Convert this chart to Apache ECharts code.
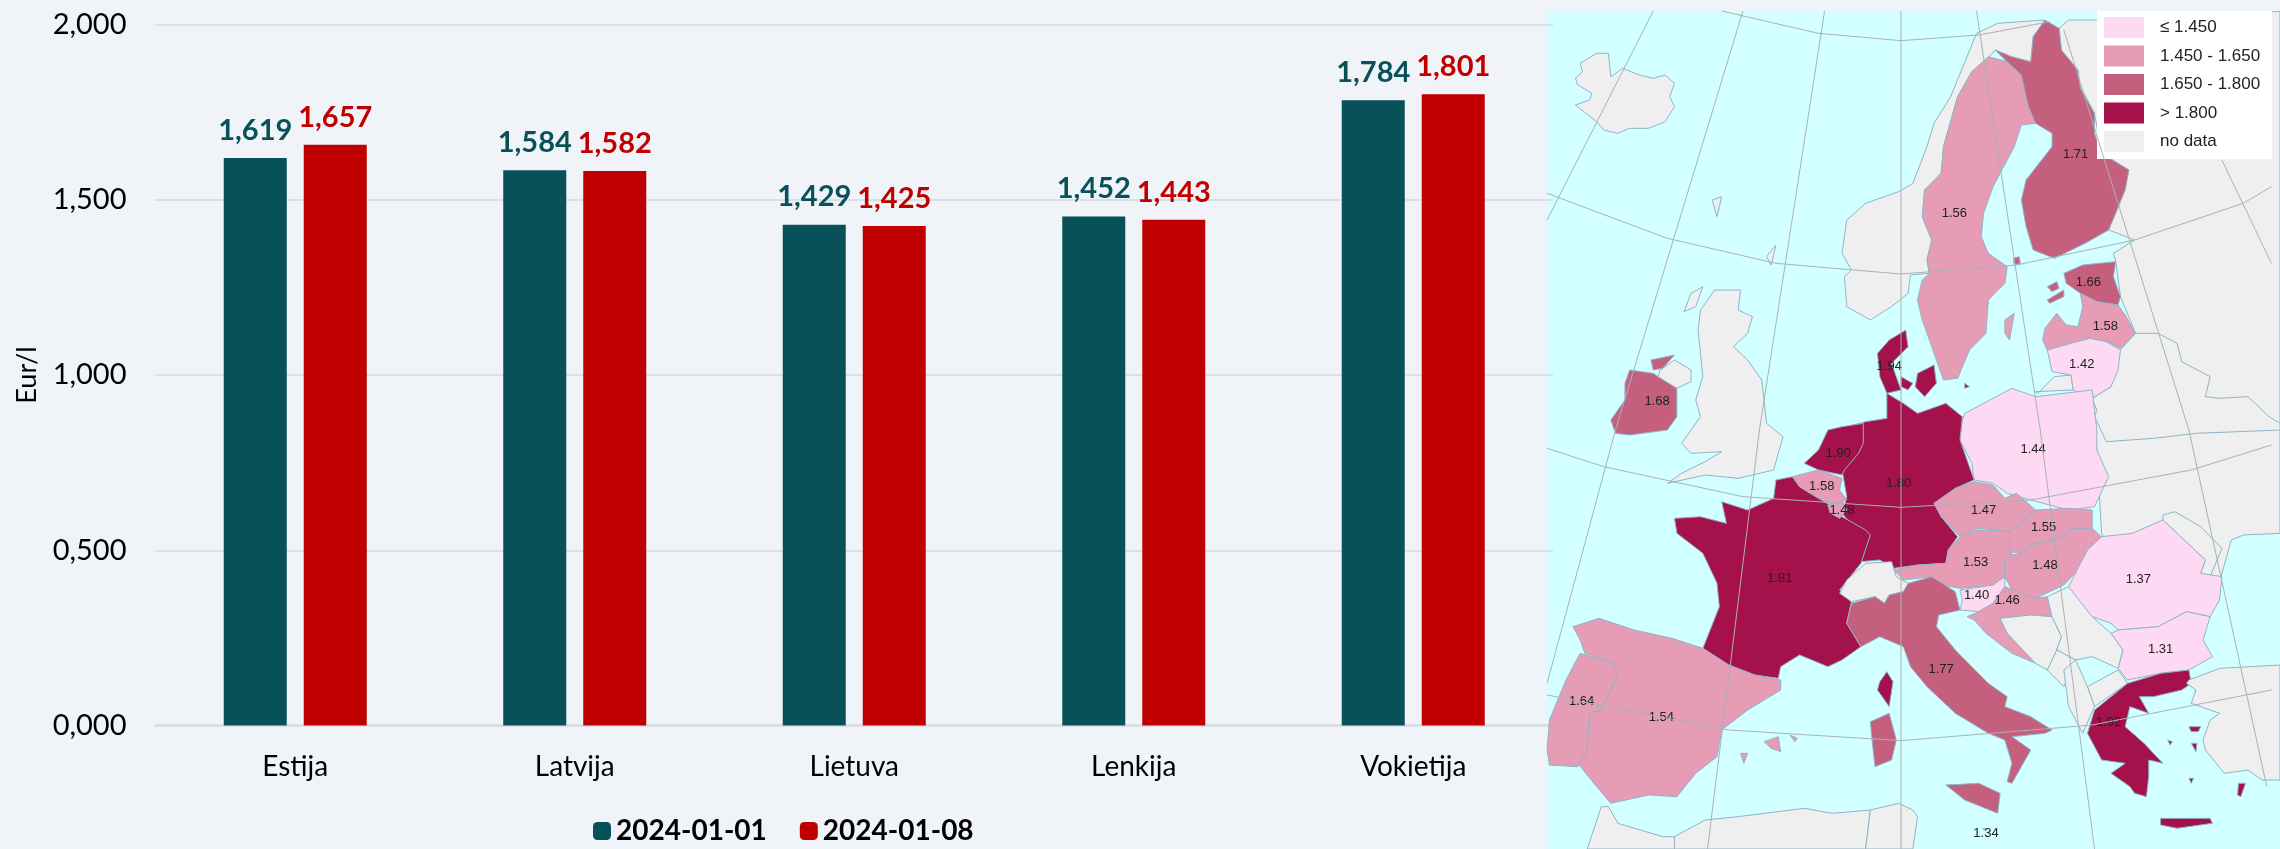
<!DOCTYPE html>
<html>
<head>
<meta charset="utf-8">
<style>
  html, body { margin: 0; background: #f0f4f8; }
  #chart { width: 2280px; height: 849px; }
</style>
<script src="https://cdn.jsdelivr.net/npm/echarts@6/dist/echarts.min.js"></script>
</head>
<body>
<div id="chart"></div>
<script>
const categories = ["Estija", "Latvija", "Lietuva", "Lenkija", "Vokietija"];
const seriesNames = ["2024-01-01", "2024-01-08"];
const firstWeek = [1.619, 1.584, 1.429, 1.452, 1.784];
const secondWeek = [1.657, 1.582, 1.425, 1.443, 1.801];
const yTicks = { min: 0, max: 2, interval: 0.5 };

const priceCountries = ["Sweden", "Finland", "Estonia", "Latvia", "Lithuania", "Poland", "Germany", "Denmark",
  "Ireland", "Netherlands", "Belgium", "Luxembourg", "France", "Czechia", "Slovakia", "Austria", "Hungary",
  "Romania", "Bulgaria", "Slovenia", "Croatia", "Italy", "Portugal", "Spain", "Greece", "Malta"];
const priceValues = [1.56, 1.71, 1.66, 1.58, 1.42, 1.44, 1.801, 1.94,
  1.68, 1.90, 1.58, 1.48, 1.81, 1.47, 1.55, 1.53, 1.48,
  1.37, 1.31, 1.40, 1.46, 1.77, 1.64, 1.54, 1.92, 1.34];

const comma = (v, digits) => v.toFixed(digits).replace(".", ",");

const low = pts => pts.map(([x, y]) => [x, y + 1260]);
const outlines = {
  Iceland: [[[75,235],[90,215],[85,190],[120,160],[145,160],[150,230],[175,205],[210,225],[240,235],[265,225],[285,250],[275,290],[285,320],[265,365],[230,385],[190,385],[165,400],[135,390],[120,365],[75,315],[105,300],[110,280],[80,255]]],
  Faroe: [[[365,600],[385,590],[375,650]], [[480,770],[500,735],[490,795]]],
  East: [[[1100,85],[1120,60],[1180,60],[1568,34],[1568,1600],[1490,1605],[1465,1620],[1445,1720],[1420,1850],[1300,1890],[1190,1600],[1180,1350],[1170,1170],[1262,1000],[1230,890],[1220,785],[1215,760],[1260,720],[1205,690],[1248,510],[1190,460],[1175,340],[1105,150]]],
  Belarus: [[[1262,1000],[1310,1000],[1350,1030],[1360,1085],[1420,1130],[1410,1190],[1440,1195],[1500,1190],[1545,1250],[1568,1270],[1568,1290],[1390,1300],[1300,1315],[1200,1325],[1175,1250],[1180,1230],[1170,1195],[1210,1160],[1230,1050]]],
  Moldova: [low([[1320,285],[1345,275],[1400,320],[1445,385],[1420,470],[1400,460],[1410,420],[1380,380],[1320,300]])],
  Kaliningrad: [[[1055,1180],[1090,1130],[1125,1125],[1130,1170],[1050,1175]]],
  Norway: [[[650,660],[690,610],[760,575],[790,550],[820,440],[835,370],[870,290],[905,170],[925,100],[970,70],[1070,60],[1045,110],[1040,185],[990,185],[965,150],[945,180],[915,215],[885,290],[855,440],[850,520],[815,570],[810,650],[830,720],[820,780],[825,820],[785,825],[780,880],[745,920],[700,960],[650,920],[645,830],[660,810],[640,760]]],
  Sweden: [[[950,170],[990,185],[1020,225],[1035,320],[1050,370],[1020,375],[1005,440],[960,560],[940,640],[935,710],[950,760],[990,800],[985,850],[950,900],[945,1000],[910,1050],[885,1135],[855,1140],[830,1040],[810,960],[800,900],[810,840],[825,820],[820,780],[830,720],[810,650],[815,570],[850,520],[855,440],[885,290],[915,215]],
    [[985,960],[1005,940],[995,1020],[985,1000]]],
  Finland: [[[1070,60],[1100,85],[1105,150],[1140,210],[1145,265],[1175,340],[1175,400],[1190,460],[1248,510],[1240,570],[1220,640],[1205,690],[1155,730],[1090,775],[1045,750],[1030,680],[1020,600],[1030,540],[1085,440],[1085,400],[1050,370],[1035,320],[1020,225],[990,185],[965,150],[1000,170],[1040,185],[1045,110]],
    [[1003,775],[1015,770],[1018,790],[1005,795]]],
  Estonia: [[[1110,820],[1150,795],[1220,785],[1215,830],[1230,890],[1225,915],[1180,905],[1145,880],[1115,850]],
    [[1075,860],[1095,845],[1100,865],[1085,875]], [[1075,900],[1110,870],[1110,890],[1080,910]]],
  Latvia: [[[1070,985],[1095,940],[1115,975],[1140,980],[1150,920],[1145,880],[1180,905],[1225,915],[1240,945],[1262,1000],[1230,1045],[1200,1025],[1165,1015],[1125,1030],[1075,1050],[1065,1020]]],
  Lithuania: [[[1075,1050],[1125,1030],[1165,1015],[1200,1025],[1230,1050],[1225,1110],[1210,1160],[1170,1195],[1130,1170],[1125,1125],[1085,1115]]],
  Poland: [[[900,1240],[1000,1165],[1050,1190],[1170,1170],[1180,1290],[1180,1350],[1205,1430],[1175,1520],[1120,1530],[1040,1500],[990,1480],[960,1450],[920,1440],[915,1390],[890,1320],[895,1260]]],
  Germany: [[[640,1285],[690,1265],[735,1255],[735,1180],[770,1210],[800,1240],[860,1210],[895,1250],[890,1320],[920,1440],[880,1465],[835,1510],[850,1550],[885,1610],[865,1650],[860,1690],[800,1695],[750,1705],[720,1680],[680,1685],[690,1605],[660,1575],[640,1540],[650,1490],[640,1410],[680,1310]]],
  Netherlands: [[[610,1290],[640,1280],[685,1270],[685,1330],[675,1360],[645,1410],[640,1425],[590,1410],[560,1390],[590,1350]]],
  Denmark: [[[715,1060],[740,1020],[775,990],[780,1040],[745,1090],[765,1170],[735,1180],[720,1130]],
    [[765,1130],[790,1150],[780,1170],[765,1160]], [[800,1120],[835,1095],[840,1150],[815,1190],[795,1160]], [[900,1150],[910,1160],[900,1165]]],
  Britain: [[[340,930],[370,870],[425,870],[420,930],[450,950],[440,1000],[410,1040],[440,1080],[470,1140],[480,1270],[515,1310],[495,1410],[420,1435],[350,1425],[270,1450],[300,1420],[350,1385],[385,1355],[320,1360],[300,1330],[340,1250],[330,1200],[345,1130],[340,1060],[335,990]],
    [[305,935],[320,880],[345,860],[330,920]]],
  Ireland: [[[190,1110],[240,1120],[250,1130],[290,1150],[290,1250],[270,1290],[190,1305],[160,1300],[150,1260],[180,1200],[180,1150]],
    [[235,1080],[285,1065],[260,1105],[240,1110]]],
  NorthernIreland: [[[255,1110],[285,1080],[320,1110],[320,1145],[290,1165],[250,1130]]],
  France: [low([[285,295],[340,290],[395,310],[385,245],[440,270],[495,235],[500,180],[535,170],[550,200],[590,235],[620,260],[640,290],[690,330],[700,345],[680,430],[635,510],[660,545],[650,610],[680,680],[640,720],[610,740],[550,705],[510,740],[505,775],[455,765],[400,735],[345,685],[380,560],[375,490],[345,400],[290,340]]),
    low([[735,755],[748,785],[740,860],[715,810],[720,785]])],
  Belgium: [low([[535,170],[590,150],[640,175],[635,210],[650,240],[620,255],[585,230],[550,200]])],
  Luxembourg: [low([[610,255],[640,245],[650,270],[635,295],[615,280]])],
  Switzerland: [low([[635,520],[650,480],[690,430],[745,425],[755,470],[780,490],[770,515],[740,525],[730,550],[710,530],[660,545]])],
  Austria: [low([[750,450],[800,435],[860,430],[865,390],[890,350],[930,330],[995,335],[1000,405],[985,425],[985,470],[960,495],[890,505],[830,490],[830,470],[770,480]])],
  Czechia: [low([[835,250],[880,205],[920,185],[960,195],[985,235],[1010,220],[1050,270],[1020,310],[995,335],[930,325],[890,350],[850,290]])],
  Slovakia: [low([[1050,270],[1120,265],[1170,270],[1170,325],[1130,325],[1090,360],[1040,375],[1020,400],[995,395],[995,335],[1020,310]])],
  Hungary: [low([[1000,405],[1020,400],[1040,375],[1090,360],[1130,325],[1170,325],[1190,350],[1160,390],[1140,450],[1110,495],[1050,535],[1000,510],[985,470],[985,425]])],
  Slovenia: [low([[890,510],[960,495],[985,470],[985,500],[960,550],[930,575],[890,570],[895,540]])],
  Croatia: [low([[960,550],[985,500],[1050,535],[1075,530],[1085,590],[1040,585],[975,595],[990,640],[1050,730],[1000,700],[945,640],[920,600],[905,590],[930,575]])],
  Italy: [low([[660,550],[710,530],[730,550],[740,525],[770,515],[780,490],[830,470],[880,515],[890,570],[845,585],[840,620],[880,690],[950,790],[990,830],[985,860],[1040,890],[1085,930],[1070,940],[1000,950],[1040,990],[1020,1040],[1000,1090],[990,1085],[1000,1030],[985,960],[950,940],[880,880],[820,800],[785,740],[770,680],[720,650],[680,680],[650,610]]),
    low([[860,1095],[930,1090],[975,1120],[970,1180],[900,1140]]),
    low([[700,905],[740,880],[755,960],[745,1020],[710,1040],[705,980]])],
  Malta: [low([[938,1226],[946,1226],[944,1232]])],
  Spain: [low([[70,620],[125,595],[200,630],[280,655],[345,685],[400,735],[455,765],[510,780],[510,810],[440,870],[385,930],[375,1010],[330,1060],[290,1130],[230,1125],[150,1150],[120,1100],[80,1030],[100,990],[105,880],[130,870],[165,760],[155,730],[95,700],[85,660]]),
    low([[475,965],[505,950],[510,995],[490,985]]), low([[530,945],[545,955],[540,965]]), low([[425,1000],[440,1000],[432,1030]])],
  Portugal: [low([[85,700],[155,730],[165,760],[130,870],[105,880],[100,990],[80,1040],[20,1035],[15,990],[20,900],[55,780]])],
  Romania: [low([[1120,500],[1160,390],[1190,350],[1255,340],[1320,300],[1380,380],[1410,420],[1400,460],[1445,470],[1440,540],[1420,590],[1370,575],[1310,620],[1225,630],[1210,610],[1170,590],[1130,545]])],
  Bulgaria: [low([[1225,630],[1310,620],[1370,575],[1420,590],[1405,660],[1425,710],[1375,750],[1315,760],[1245,780],[1225,745],[1235,690],[1210,640]])],
  Bosnia: [low([[975,595],[1040,585],[1085,590],[1105,650],[1095,690],[1075,750],[1050,730],[990,640]])],
  Serbia: [low([[1075,530],[1120,500],[1170,590],[1210,640],[1235,690],[1225,745],[1170,710],[1135,720],[1095,690],[1105,650],[1085,590]])],
  Montenegro: [low([[1075,750],[1095,690],[1135,720],[1110,800]])],
  Macedonia: [low([[1160,800],[1225,750],[1245,790],[1175,860]])],
  Albania: [low([[1110,750],[1135,720],[1160,800],[1175,860],[1150,940],[1120,860]])],
  Greece: [low([[1245,790],[1315,760],[1375,750],[1380,790],[1360,810],[1300,830],[1270,830],[1290,880],[1250,860],[1240,920],[1280,970],[1320,1030],[1290,1020],[1290,1070],[1285,1130],[1260,1120],[1250,1100],[1210,1060],[1240,1030],[1190,1020],[1160,940],[1175,870]]),
    low([[1315,1195],[1420,1195],[1425,1210],[1350,1225],[1315,1215]]),
    low([[1375,920],[1400,920],[1395,935],[1380,935]]), low([[1380,970],[1392,970],[1390,995]]),
    low([[1480,1090],[1495,1090],[1485,1130],[1478,1125]]), low([[1375,1075],[1385,1075],[1380,1090]]), low([[1330,960],[1340,965],[1335,975]]),
    low([[1425,1015],[1435,1015],[1430,1022]])],
  Turkey: [low([[1375,780],[1440,745],[1568,735],[1568,1080],[1530,1080],[1500,1050],[1450,1060],[1410,990],[1405,960],[1420,900],[1440,880],[1380,850],[1390,810],[1370,790]])],
  Morocco: [low([[100,1287],[130,1160],[145,1160],[165,1210],[260,1250],[285,1250],[285,1287]])],
  Algeria: [low([[285,1287],[285,1250],[350,1200],[420,1190],[560,1165],[620,1180],[700,1170],[690,1287]])],
  Tunisia: [low([[690,1287],[700,1170],[760,1150],[790,1170],[800,1190],[790,1287]])]
};

const labelPoints = {
  Sweden: [878,640], Finland: [1135,463], Estonia: [1162,848], Latvia: [1198,980], Lithuania: [1148,1092],
  Poland: [1045,1348], Germany: [760,1450], Denmark: [740,1100], Ireland: [248,1205], Netherlands: [632,1360],
  Belgium: [597,1460], Luxembourg: [640,1532], France: [508,1735], Czechia: [940,1532], Slovakia: [1067,1582],
  Austria: [923,1687], Hungary: [1070,1697], Romania: [1268,1738], Bulgaria: [1315,1948], Slovenia: [925,1787],
  Croatia: [990,1802], Italy: [850,2008], Portugal: [88,2103], Spain: [257,2153], Greece: [1205,2168], Malta: [945,2500]
};

const graticule = [
  [[385,33],[590,100],[765,122],[930,105],[1080,65]],
  [[15,580],[270,715],[500,790],[765,822],[1010,795],[1260,720],[1490,610],[1550,560]],
  low([[15,85],[135,140],[430,230],[765,262],[1040,240],[1380,150],[1550,75]]),
  low([[15,825],[400,930],[765,962],[1170,915],[1550,810]]),
  [[240,33],[15,660]],
  [[430,33],[160,1290],[15,2050]],
  [[603,33],[465,1290],[355,2547]],
  [[765,33],[765,2547]],
  [[925,33],[1060,1290],[1175,2547]],
  [[1110,90],[1375,1290],[1540,2360]],
  [[1445,480],[1550,790]]
];

const toMap = ([x, y]) => [1540 + x / 2.119, -y / 3];

const geoJson = {
  type: "FeatureCollection",
  features: Object.keys(outlines).map(name => ({
    type: "Feature",
    properties: labelPoints[name] ? { name, cp: toMap(labelPoints[name]) } : { name },
    geometry: {
      type: "MultiPolygon",
      coordinates: outlines[name].map(ring => [[...ring, ring[0]].map(toMap)])
    }
  }))
};
echarts.registerMap("europe", geoJson);

const mapBox = { left: 1547, top: 11, width: 733, height: 838 };
const mapBounds = [[1547, -11], [2280, -849]];
const textFont = "Lato, sans-serif";

const chart = echarts.init(document.getElementById("chart"));

chart.setOption({
  animation: false,
  backgroundColor: "#f0f4f8",
  textStyle: { fontFamily: textFont },
  graphic: {
    z: 1,
    elements: [{ type: "rect", shape: { x: 1547, y: 11, width: 733, height: 838 }, style: { fill: "#d2ffff" }, silent: true }]
  },
  grid: { left: 155.5, right: 727, top: 24.5, bottom: 123.5 },
  legend: {
    left: 588, top: 812, itemWidth: 18, itemHeight: 18, itemGap: 33, selectedMode: false,
    data: seriesNames,
    textStyle: { color: "#000", fontFamily: textFont, fontWeight: "bold", fontSize: 28, padding: [0, 0, 0, 0] }
  },
  xAxis: {
    type: "category", data: categories,
    axisLine: { lineStyle: { color: "#dcdfe3", width: 3 } },
    axisTick: { show: false },
    axisLabel: { color: "#000", fontSize: 28, margin: 27, fontFamily: textFont }
  },
  yAxis: {
    type: "value", min: yTicks.min, max: yTicks.max, interval: yTicks.interval,
    name: "Eur/l", nameLocation: "middle", nameGap: 115,
    nameTextStyle: { color: "#000", fontSize: 27, fontFamily: textFont },
    axisLine: { show: false }, axisTick: { show: false },
    splitLine: { lineStyle: { color: "#dcdfe3", width: 2 } },
    axisLabel: { color: "#000", fontSize: 29, margin: 29, fontFamily: textFont, formatter: v => comma(v, 3) }
  },
  geo: {
    map: "europe", ...mapBox, boundingCoords: mapBounds, aspectScale: 1, silent: true, roam: false, z: 2,
    itemStyle: { areaColor: "transparent", borderWidth: 0 }
  },
  visualMap: {
    type: "piecewise", seriesIndex: 2, left: 2097, top: 11, orient: "vertical", inverse: true, align: "left",
    selectedMode: false, itemSymbol: "rect",
    backgroundColor: "#fff", padding: [6, 12, 7, 7], itemWidth: 40, itemHeight: 21, itemGap: 7.5, textGap: 16,
    textStyle: { color: "#222", fontSize: 17, fontFamily: "'Liberation Sans', sans-serif" },
    pieces: [
      { max: 1.45, label: "≤ 1.450", color: "#fdd9f4" },
      { min: 1.45, max: 1.65, label: "1.450 - 1.650", color: "#e59cb4" },
      { min: 1.65, max: 1.8, label: "1.650 - 1.800", color: "#c4607e" },
      { min: 1.8, max: 5, label: "> 1.800", color: "#a5114a" },
      { value: 9, label: "no data", color: "#efefef" }
    ]
  },
  series: [
    {
      name: seriesNames[0], type: "bar", data: firstWeek, barWidth: 63, barGap: "27%",
      itemStyle: { color: "#085158" },
      label: { show: true, position: "top", distance: 13, color: "#085158", fontSize: 29, fontWeight: "bold", fontFamily: textFont, formatter: p => comma(p.value, 3) }
    },
    {
      name: seriesNames[1], type: "bar", data: secondWeek, barWidth: 63,
      itemStyle: { color: "#c00000" },
      label: { show: true, position: "top", distance: 13, color: "#c00000", fontSize: 29, fontWeight: "bold", fontFamily: textFont, formatter: p => comma(p.value, 3) }
    },
    {
      type: "map", map: "europe", ...mapBox, boundingCoords: mapBounds, aspectScale: 1, roam: false, silent: true, z: 3,
      showLegendSymbol: false,
      data: priceCountries.map((name, i) => ({ name, value: priceValues[i] })),
      itemStyle: { areaColor: "#efefef", borderColor: "#8fb4c8", borderWidth: 1 },
      label: {
        show: true, color: "#222", fontSize: 13, fontFamily: "'Liberation Sans', sans-serif",
        formatter: p => (p.value > 0 ? p.value.toFixed(2) : "")
      },
      emphasis: { disabled: true }
    },
    {
      type: "lines", coordinateSystem: "geo", polyline: true, silent: true, z: 4,
      lineStyle: { color: "#a9b2b4", width: 1, opacity: 1 },
      data: graticule.map(line => ({ coords: line.map(toMap) }))
    }
  ]
});
</script>
</body>
</html>
